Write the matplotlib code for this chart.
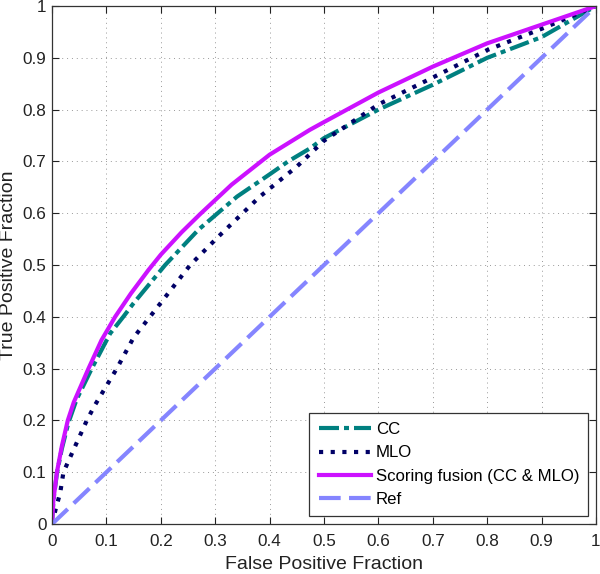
import matplotlib
matplotlib.use("Agg")
import matplotlib.pyplot as plt
from matplotlib import font_manager

# ---- data ----
cc_fpr = [0, 0.0025, 0.009, 0.018, 0.03, 0.045, 0.073, 0.107, 0.131, 0.149,
          0.208, 0.269, 0.34, 0.4, 0.434, 0.474, 0.5, 0.6, 0.7, 0.8, 0.9, 1.0]
cc_tpr = [0, 0.045, 0.098, 0.145, 0.195, 0.24, 0.3, 0.368, 0.4, 0.425,
          0.5, 0.568, 0.632, 0.675, 0.7, 0.725, 0.745, 0.80, 0.848, 0.9, 0.94, 1.0]

mlo_fpr = [0, 0.007, 0.015, 0.021, 0.045, 0.064, 0.078, 0.119, 0.15, 0.18,
           0.254, 0.306, 0.382, 0.45, 0.5, 0.6, 0.7, 0.8, 0.9, 1.0]
mlo_tpr = [0, 0.03, 0.06, 0.1, 0.156, 0.2, 0.228, 0.3, 0.36, 0.4,
           0.5, 0.555, 0.632, 0.69, 0.74, 0.81, 0.862, 0.915, 0.956, 1.0]

fus_fpr = [0, 0.0025, 0.009, 0.018, 0.029, 0.04, 0.067, 0.091, 0.116, 0.145, 0.177,
           0.2, 0.238, 0.272, 0.33, 0.4, 0.474, 0.5, 0.6, 0.7, 0.8, 0.9, 1.0]
fus_tpr = [0, 0.046, 0.1, 0.15, 0.2, 0.235, 0.3, 0.355, 0.4, 0.445, 0.49,
           0.52, 0.563, 0.598, 0.655, 0.713, 0.761, 0.776, 0.833, 0.883, 0.928, 0.964, 1.0]

ref_fpr = [0, 1]
ref_tpr = [0, 1]

labels = ["CC", "MLO", "Scoring fusion (CC & MLO)", "Ref"]
ticks = [0, 0.1, 0.2, 0.3, 0.4, 0.5, 0.6, 0.7, 0.8, 0.9, 1.0]
tick_labels = ["0", "0.1", "0.2", "0.3", "0.4", "0.5", "0.6", "0.7", "0.8", "0.9", "1"]

# ---- style ----
avail = {f.name for f in font_manager.fontManager.ttflist}
fam = "Liberation Sans" if "Liberation Sans" in avail else "DejaVu Sans"
plt.rcParams["font.family"] = [fam, "DejaVu Sans"]

fig = plt.figure(figsize=(6.0, 5.74), dpi=100)
ax = fig.add_axes([0.0867, 0.0871, 0.9066, 0.9024])

lw = 3.0
ax.plot(cc_fpr, cc_tpr, color="#008080", lw=lw, linestyle=(0, (4.8, 1.2, 1.2, 1.2)), label=labels[0])
ax.plot(mlo_fpr, mlo_tpr, color="#000066", lw=lw, linestyle=(0, (1.0, 1.8)), label=labels[1])
ax.plot(fus_fpr, fus_tpr, color="#cc11ff", lw=lw, linestyle="-", label=labels[2])
ax.plot(ref_fpr, ref_tpr, color="#8585ff", lw=lw, linestyle=(0, (5.2, 2.0)), label=labels[3])

ax.set_xlim(0, 1)
ax.set_ylim(0, 1)
ax.set_xticks(ticks)
ax.set_xticklabels(tick_labels)
ax.set_yticks(ticks)
ax.set_yticklabels(tick_labels)
ax.tick_params(direction="in", length=5, width=0.8, top=True, right=True,
               labelsize=12.3, colors="#222222")
ax.tick_params(axis="x", pad=7)
ax.tick_params(axis="y", pad=4)
ax.grid(True, linestyle=(0, (1, 4)), color="#999999", linewidth=0.7)
for s in ax.spines.values():
    s.set_color("#333333")
    s.set_linewidth(0.9)

ax.set_xlabel("False Positive Fraction", fontsize=14, color="#222222", labelpad=5)
ax.set_ylabel("True Positive Fraction", fontsize=14, color="#222222", labelpad=4)

leg = ax.legend(loc="lower right", fontsize=12.1, fancybox=False, framealpha=1,
                edgecolor="#333333", handlelength=3.1, labelspacing=0.5,
                borderpad=0.55, handletextpad=0.3, borderaxespad=0.45)
leg.get_frame().set_linewidth(0.9)

fig.savefig("out.png", dpi=100)
